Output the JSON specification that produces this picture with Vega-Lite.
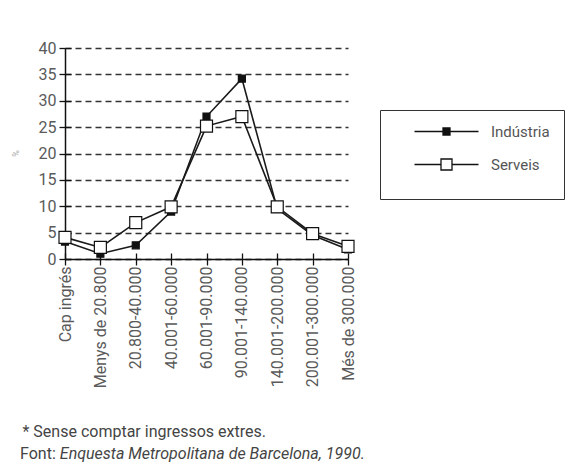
{
  "$schema": "https://vega.github.io/schema/vega-lite/v6.json",
  "width": 283,
  "height": 211,
  "autosize": {"type": "none"},
  "padding": {"left": 65, "top": 48, "right": 226, "bottom": 214},
  "background": "white",
  "config": {
    "font": "Roboto",
    "view": {"stroke": null},
    "axis": {
      "domainColor": "#111",
      "domainWidth": 1.5,
      "tickColor": "#111",
      "tickWidth": 1.3,
      "labelFont": "Roboto",
      "labelFontSize": 16,
      "labelColor": "#5a5a5a",
      "titleFont": "Roboto",
      "titleFontWeight": "normal"
    }
  },
  "data": {
    "values": [
      {"renta": "Cap ingrés", "sector": "Indústria", "pct": 3.3},
      {"renta": "Menys de 20.800", "sector": "Indústria", "pct": 1.0},
      {"renta": "20.800-40.000", "sector": "Indústria", "pct": 2.6},
      {"renta": "40.001-60.000", "sector": "Indústria", "pct": 9.0},
      {"renta": "60.001-90.000", "sector": "Indústria", "pct": 27.0},
      {"renta": "90.001-140.000", "sector": "Indústria", "pct": 34.2},
      {"renta": "140.001-200.000", "sector": "Indústria", "pct": 9.5},
      {"renta": "200.001-300.000", "sector": "Indústria", "pct": 4.5},
      {"renta": "Més de 300.000", "sector": "Indústria", "pct": 1.8},
      {"renta": "Cap ingrés", "sector": "Serveis", "pct": 4.1},
      {"renta": "Menys de 20.800", "sector": "Serveis", "pct": 2.2},
      {"renta": "20.800-40.000", "sector": "Serveis", "pct": 6.9},
      {"renta": "40.001-60.000", "sector": "Serveis", "pct": 9.9},
      {"renta": "60.001-90.000", "sector": "Serveis", "pct": 25.2},
      {"renta": "90.001-140.000", "sector": "Serveis", "pct": 27.0},
      {"renta": "140.001-200.000", "sector": "Serveis", "pct": 9.9},
      {"renta": "200.001-300.000", "sector": "Serveis", "pct": 4.8},
      {"renta": "Més de 300.000", "sector": "Serveis", "pct": 2.4}
    ]
  },
  "title": {
    "text": "Font:",
    "subtitle": "\u200b\u2003\u2003\u2002Enquesta Metropolitana de Barcelona, 1990.",
    "orient": "bottom",
    "anchor": "start",
    "frame": "group",
    "dx": -45,
    "offset": 7,
    "font": "Roboto",
    "fontSize": 16,
    "fontWeight": "normal",
    "color": "#444",
    "subtitleFont": "Roboto",
    "subtitleFontSize": 16,
    "subtitleFontStyle": "italic",
    "subtitleColor": "#444",
    "subtitlePadding": -16
  },
  "layer": [
    {
      "mark": {"type": "line", "stroke": "#1a1a1a", "strokeWidth": 1.6},
      "encoding": {
        "x": {
          "field": "renta",
          "type": "ordinal",
          "sort": ["Cap ingrés", "Menys de 20.800", "20.800-40.000", "40.001-60.000", "60.001-90.000", "90.001-140.000", "140.001-200.000", "200.001-300.000", "Més de 300.000"],
          "scale": {"type": "point", "padding": 0},
          "axis": {
            "orient": "bottom",
            "labelAngle": -90,
            "tickSize": 6,
            "labelPadding": 1,
            "grid": false,
            "title": "* Sense comptar ingressos extres.",
            "titleX": -43,
            "titleY": 177,
            "titleAlign": "left",
            "titleAnchor": null,
            "titleBaseline": "alphabetic",
            "titleFontSize": 16,
            "titleColor": "#444"
          }
        },
        "y": {
          "field": "pct",
          "type": "quantitative",
          "scale": {"domain": [0, 40], "nice": false},
          "axis": {
            "orient": "left",
            "values": [0, 5, 10, 15, 20, 25, 30, 35, 40],
            "tickSize": 6,
            "labelPadding": 3,
            "grid": true,
            "gridDash": [6, 4],
            "gridColor": "#333",
            "gridWidth": 1.3,
            "title": "%",
            "titleFontSize": 9,
            "titleColor": "#aaa",
            "titleX": -45,
            "titleY": 105,
            "titleAnchor": null
          }
        },
        "detail": {"field": "sector", "type": "nominal"}
      }
    },
    {
      "mark": {"type": "point", "shape": "square", "filled": true, "stroke": "#111", "strokeWidth": 1.2, "opacity": 1},
      "encoding": {
        "x": {
          "field": "renta",
          "type": "ordinal",
          "sort": ["Cap ingrés", "Menys de 20.800", "20.800-40.000", "40.001-60.000", "60.001-90.000", "90.001-140.000", "140.001-200.000", "200.001-300.000", "Més de 300.000"],
          "scale": {"type": "point", "padding": 0},
          "axis": {"orient": "bottom", "labels": false, "domain": false, "grid": false, "tickSize": -6, "title": null}
        },
        "y": {
          "field": "pct",
          "type": "quantitative",
          "scale": {"domain": [0, 40], "nice": false},
          "axis": {"orient": "left", "values": [0, 5, 10, 15, 20, 25, 30, 35, 40], "labels": false, "domain": false, "grid": false, "tickSize": -6, "title": null}
        },
        "fill": {
          "field": "sector",
          "type": "nominal",
          "scale": {"domain": ["Indústria", "Serveis"], "range": ["#111111", "#ffffff"]},
          "legend": {
            "orient": "none",
            "legendX": 315,
            "legendY": 62,
            "title": "\u00a0",
            "titleOrient": "bottom",
            "titleFontSize": 10,
            "titlePadding": 2,
            "strokeColor": "#333",
            "padding": 14,
            "symbolSize": 100,
            "symbolStrokeWidth": 1.3,
            "symbolStrokeColor": "#111",
            "symbolOffset": 45,
            "labelOffset": 37,
            "labelFont": "Roboto",
            "labelFontSize": 15,
            "labelColor": "#555",
            "rowPadding": 16,
            "symbolType": {"expr": "datum.value === 'Indústria' ? 'M-6.4,0H-0.7M0.7,0H6.4M-0.7,-0.7H0.7V0.7H-0.7Z' : 'M-6.4,0H-1.1M1.1,0H6.4M-1.1,-1.1H1.1V1.1H-1.1Z'"},
            "labelExpr": "datum.label + '\u00a0\u00a0\u00a0\u00a0\u00a0\u00a0\u00a0\u00a0\u00a0\u00a0\u00a0\u00a0\u00a0\u00a0\u00a0\u00a0\u00a0\u00a0'"
          }
        },
        "size": {"condition": {"test": "datum.sector === 'Indústria'", "value": 49}, "value": 144}
      }
    }
  ],
  "resolve": {"axis": {"x": "independent", "y": "independent"}}
}
